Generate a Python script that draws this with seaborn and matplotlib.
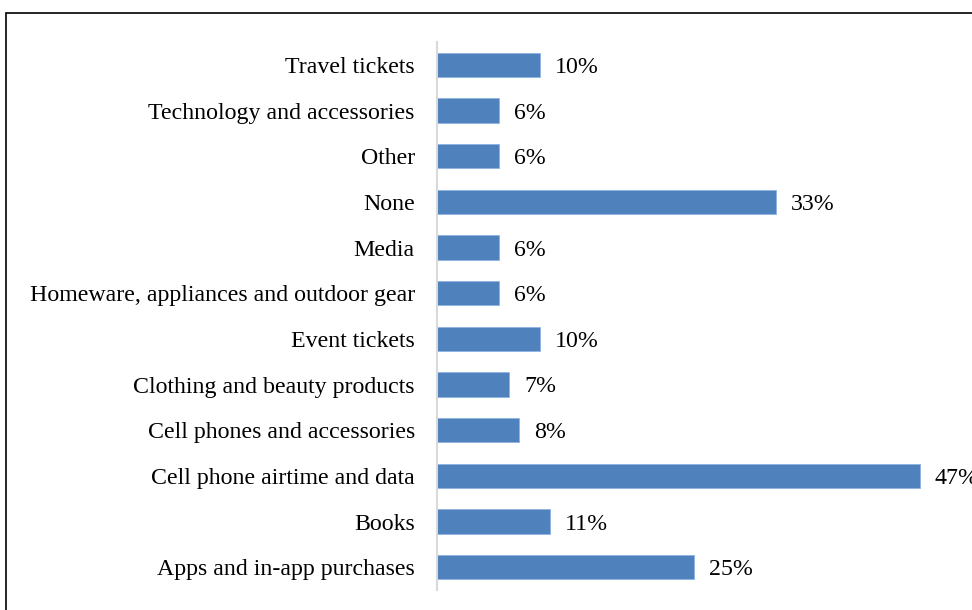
import matplotlib
matplotlib.use("Agg")
import matplotlib.pyplot as plt
import seaborn as sns
import pandas as pd
from matplotlib.patches import Rectangle

categories = [
    "Travel tickets",
    "Technology and accessories",
    "Other",
    "None",
    "Media",
    "Homeware, appliances and outdoor gear",
    "Event tickets",
    "Clothing and beauty products",
    "Cell phones and accessories",
    "Cell phone airtime and data",
    "Books",
    "Apps and in-app purchases",
]
shares = [10, 6, 6, 33, 6, 6, 10, 7, 8, 47, 11, 25]

df = pd.DataFrame({"category": categories, "share": shares})

sns.set_theme(style="white")
plt.rcParams["font.family"] = ["Liberation Serif", "DejaVu Serif"]

W, H = 972, 610
fig = plt.figure(figsize=(W / 100, H / 100), dpi=100)

# axes spans the plotting region; x scale ~10.27 px per percent
left_px, right_px, top_px, bottom_px = 437, 972, 42, 590
ax = fig.add_axes([left_px / W, 1 - bottom_px / H,
                   (right_px - left_px) / W, (bottom_px - top_px) / H])

sns.barplot(data=df, y="category", x="share", orient="h", color="#4F81BD",
            saturation=1, width=0.53, edgecolor="#8EB4E3", linewidth=0.6, ax=ax)

ax.set_xlim(0, (right_px - left_px) / 10.27)
ax.set_ylim(len(categories) - 0.5, -0.5)
ax.set_xlabel("")
ax.set_ylabel("")
ax.set_xticks([])
ax.tick_params(axis="y", length=0, pad=16, labelsize=17.2, labelcolor="black")
for lbl in ax.get_yticklabels():
    lbl.set_verticalalignment("center_baseline")
for s in ["top", "right", "bottom"]:
    ax.spines[s].set_visible(False)
ax.spines["left"].set_color("#D9D9D9")
ax.spines["left"].set_linewidth(1.5)

for i, v in enumerate(shares):
    ax.annotate(f"{v}%", xy=(v, i), xytext=(11, 0), textcoords="offset points",
                va="center_baseline", ha="left", fontsize=17.2, color="black",
                annotation_clip=False)

# outer frame
fig.patches.append(Rectangle((6 / W, -0.1), 1.2, 1 - 13 / H + 0.1,
                             transform=fig.transFigure, fill=False,
                             edgecolor="black", linewidth=1.2, zorder=10))

fig.savefig("out.png", dpi=100)
